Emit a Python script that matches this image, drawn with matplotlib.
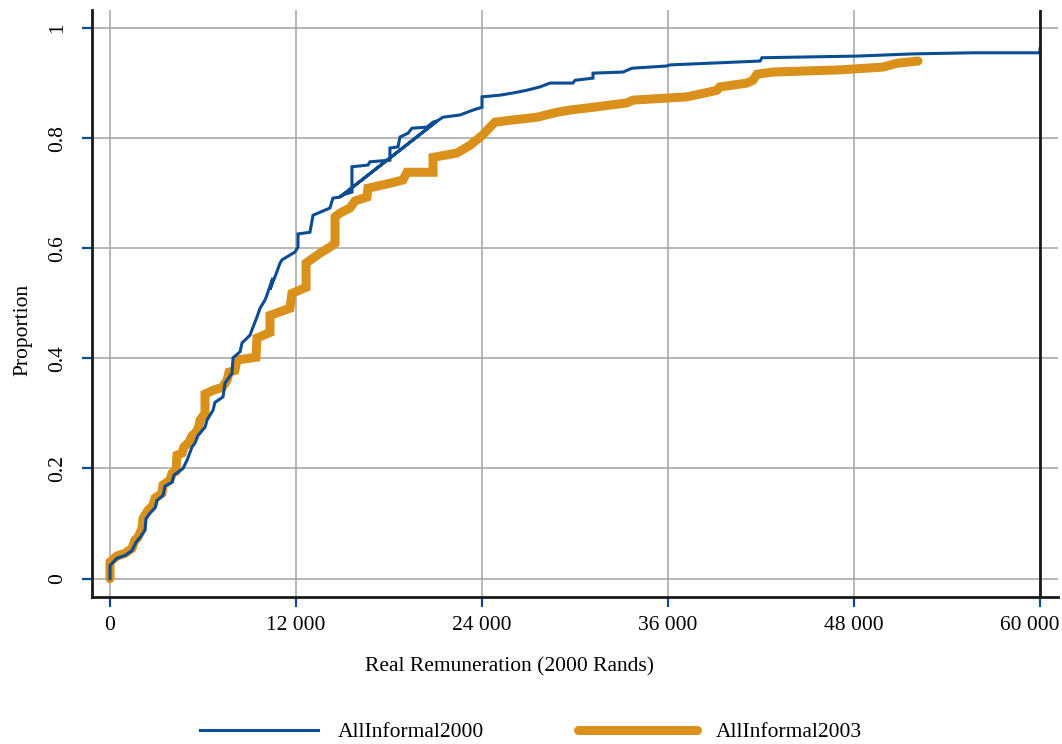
#!/usr/bin/env python3
import matplotlib
matplotlib.use("Agg")
import matplotlib.pyplot as plt
from matplotlib.transforms import ScaledTranslation

inc_2000 = [0, 0, 450, 970, 1420, 1680, 1940, 2260, 2320, 2580, 2900, 3030,
            3420, 3550, 4000, 4130, 4710, 4970, 5290, 5480, 5680, 6130, 6260,
            6650, 6770, 7290, 7420, 7870, 7940, 8390, 8520, 9030, 9230, 9480,
            9680, 10000, 10060, 10510, 10320, 10710, 10970, 11100, 11930,
            12130, 12130, 12900, 13100, 14190, 14380, 14840, 15030, 15610,
            15610, 16640, 16770, 18060, 18060, 18580, 18710, 19230, 19480,
            20450, 20840, 21100, 14840, 21100, 21480, 22580, 23420, 24000,
            24000, 25160, 26000, 26900, 27740, 28390, 29870, 30000, 31160,
            31160, 33100, 33680, 35930, 36130, 41940, 42060, 48190, 51810,
            55680, 60000, 60000]
cdf_2000 = [0.0, 0.024, 0.037, 0.042, 0.051, 0.066, 0.075, 0.088, 0.109,
            0.119, 0.128, 0.142, 0.151, 0.168, 0.175, 0.188, 0.200, 0.215,
            0.239, 0.246, 0.260, 0.275, 0.288, 0.306, 0.320, 0.330, 0.355,
            0.373, 0.401, 0.412, 0.428, 0.442, 0.457, 0.475, 0.491, 0.506,
            0.510, 0.546, 0.525, 0.553, 0.573, 0.579, 0.593, 0.602, 0.626,
            0.629, 0.660, 0.673, 0.691, 0.693, 0.697, 0.702, 0.748, 0.751,
            0.757, 0.760, 0.782, 0.784, 0.802, 0.809, 0.818, 0.820, 0.829,
            0.831, 0.693, 0.831, 0.838, 0.842, 0.851, 0.856, 0.875, 0.878,
            0.882, 0.887, 0.893, 0.900, 0.900, 0.905, 0.909, 0.918, 0.920,
            0.927, 0.931, 0.933, 0.940, 0.946, 0.949, 0.953, 0.955, 0.955,
            0.962]

inc_2003 = [0, 0, 450, 970, 1420, 1610, 1810, 2060, 2130, 2450, 2770, 2900,
            3350, 3420, 3870, 4000, 4260, 4320, 4650, 4770, 5100, 5290, 5550,
            5740, 5810, 6130, 6130, 6650, 7230, 7550, 7680, 8060, 8190, 9420,
            9480, 10320, 10320, 11610, 11740, 12650, 12650, 13550, 14190,
            14520, 14520, 14840, 15480, 15810, 16580, 16640, 18060, 18900,
            19160, 20840, 20840, 22390, 23230, 24060, 24520, 24840, 26000,
            27550, 28840, 29680, 31160, 33350, 33740, 37230, 38710, 39160,
            39350, 41100, 41480, 41740, 42770, 47100, 49870, 50780, 52130]
cdf_2003 = [0.0, 0.030, 0.041, 0.046, 0.055, 0.070, 0.075, 0.091, 0.109,
            0.124, 0.133, 0.146, 0.155, 0.170, 0.179, 0.191, 0.195, 0.224,
            0.228, 0.239, 0.248, 0.259, 0.266, 0.277, 0.288, 0.300, 0.335,
            0.342, 0.347, 0.360, 0.375, 0.378, 0.397, 0.402, 0.437, 0.447,
            0.478, 0.491, 0.518, 0.529, 0.573, 0.591, 0.602, 0.609, 0.657,
            0.664, 0.673, 0.686, 0.693, 0.709, 0.718, 0.724, 0.738, 0.738,
            0.765, 0.773, 0.787, 0.806, 0.820, 0.829, 0.833, 0.838, 0.847,
            0.851, 0.856, 0.864, 0.869, 0.875, 0.884, 0.887, 0.893, 0.900,
            0.905, 0.916, 0.920, 0.924, 0.929, 0.936, 0.940]

x_ticks = [0, 12000, 24000, 36000, 48000, 60000]
x_tick_labels = ["0", "12 000", "24 000", "36 000", "48 000", "60 000"]
y_ticks = [0, 0.2, 0.4, 0.6, 0.8, 1]
y_tick_labels = ["0", "0.2", "0.4", "0.6", "0.8", "1"]

BLUE = "#0a4d93"
ORANGE = "#da911b"
GRID = "#a3a3a3"

plt.rcParams["font.family"] = ["Liberation Serif", "DejaVu Serif"]
plt.rcParams["font.size"] = 15.5


def main():
    fig = plt.figure(figsize=(10.62, 7.44), dpi=100)
    ax = fig.add_axes([92 / 1062, 147 / 744, 966 / 1062, 587 / 744])

    ax.plot(inc_2000, cdf_2000, color=BLUE, lw=2.2, zorder=4,
            solid_joinstyle="miter", label="AllInformal2000")
    ax.plot(inc_2003, cdf_2003, color=ORANGE, lw=6.5, zorder=3,
            solid_capstyle="round", solid_joinstyle="miter",
            label="AllInformal2003")

    ax.set_xlim(-1161, 61161)
    ax.set_ylim(-0.0334, 1.0327)

    ax.set_xticks(x_ticks)
    ax.set_xticklabels(x_tick_labels)
    ax.set_yticks(y_ticks)
    ax.set_yticklabels(y_tick_labels, rotation=90, va="center")
    ax.grid(True, color=GRID, lw=1.1, zorder=0)
    ax.set_axisbelow(True)

    ax.tick_params(axis="both", direction="out", length=7.5, width=1.6,
                   color=BLUE, pad=6)
    ax.tick_params(axis="y", pad=10.5)

    # last x label sits a bit to the left so it stays inside the figure
    last = ax.get_xticklabels()[-1]
    last.set_transform(last.get_transform()
                       + ScaledTranslation(-10 / 100, 0, fig.dpi_scale_trans))

    ax.spines["top"].set_visible(False)
    ax.spines["right"].set_visible(False)
    for s in ("left", "bottom"):
        ax.spines[s].set_linewidth(2.0)
        ax.spines[s].set_color("#1a1a1a")
    # border line at the right end of the range
    ax.axvline(60000, color="#1a1a1a", lw=2.0, zorder=5)

    ax.set_xlabel("Real Remuneration (2000 Rands)")
    ax.xaxis.set_label_coords(0.432, -0.103)
    ax.set_ylabel("Proportion")
    ax.yaxis.set_label_coords(-0.062, 0.455)

    fig.legend(loc="lower center", bbox_to_anchor=(0.5, -0.012), ncol=2,
               frameon=False, handlelength=5.5, handletextpad=0.9,
               columnspacing=4.4, borderpad=0.0)

    fig.savefig("out.png", dpi=100)


if __name__ == "__main__":
    main()
